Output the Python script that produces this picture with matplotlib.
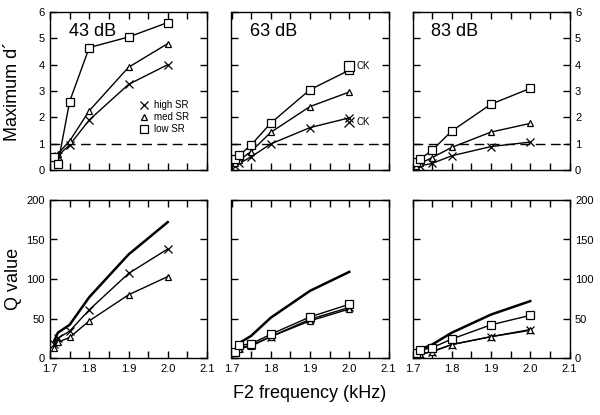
"""Max d' and Q value vs F2 frequency for three levels."""

import matplotlib
matplotlib.use("Agg")
import matplotlib.pyplot as plt
from matplotlib.lines import Line2D
from matplotlib.ticker import MultipleLocator

plt.rcParams["font.family"] = ["Liberation Sans", "DejaVu Sans"]

f2 = [1.71, 1.72, 1.75, 1.8, 1.9, 2.0]
levels = ["43 dB", "63 dB", "83 dB"]

# maximum d' per SR group, one list per level
dprime_high = [
    [0.45, 0.55, 0.95, 1.9, 3.25, 4.0],
    [0.17, 0.25, 0.5, 0.99, 1.61, 1.98],
    [0.09, 0.16, 0.25, 0.54, 0.89, 1.06],
]
dprime_med = [
    [0.5, 0.62, 1.1, 2.25, 3.9, 4.8],
    [0.25, 0.38, 0.7, 1.43, 2.41, 2.96],
    [0.15, 0.25, 0.47, 0.86, 1.44, 1.77],
]
dprime_low = [
    [0.5, 0.22, 2.6, 4.65, 5.05, 5.6],
    [0.4, 0.56, 0.95, 1.78, 3.05, 3.79],
    [0.29, 0.42, 0.75, 1.48, 2.5, 3.1],
]
# CK points at 63 dB (low SR, high SR)
ck_f2 = 2.0
ck_dprime = [3.96, 1.82]

# Q values; the heavy line is the unmarked reference curve
q_line = [
    [21, 32, 42, 77, 131, 172],
    [8, 19, 28, 51, 85, 109],
    [6, 11, 17, 32, 55, 72],
]
q_high = [
    [18, 25, 34, 61, 107, 138],
    [7, 13, 16, 27, 49, 64],
    [2, 5, 8, 17, 27, 35],
]
q_med = [
    [13, 20, 26, 47, 80, 103],
    [6, 12, 15, 27, 47, 62],
    [2, 5, 8, 17, 27, 36],
]
q_low = [
    None,
    [8, 16, 18, 30, 52, 68],
    [6, 10, 13, 24, 42, 54],
]

W, H = 600, 415
fig = plt.figure(figsize=(W / 100, H / 100), dpi=100)

lefts = [50, 231.5, 412.5]
pw, ph = 157, 158
tops = [12, 200]

mk = dict(color="black", lw=1.0, mfc="white", mec="black", mew=0.9)
sty_high = dict(marker="x", ms=5.5, **mk)
sty_med = dict(marker="^", ms=4.8, **mk)
sty_low = dict(marker="s", ms=5.5, **mk)


def style_axes(ax, ymax, ystep, col, row):
    ax.set_xlim(1.7, 2.1)
    ax.set_ylim(0, ymax)
    ax.xaxis.set_major_locator(MultipleLocator(0.1))
    ax.xaxis.set_minor_locator(MultipleLocator(0.05))
    ax.yaxis.set_major_locator(MultipleLocator(ystep))
    ax.tick_params(which="both", direction="in", top=True, right=True,
                   length=5, width=1, labelsize=8, pad=4)
    ax.tick_params(labelleft=(col == 0), labelright=(col == 2),
                   labelbottom=(row == 1))
    if row == 1:
        ax.set_xticks([1.7, 1.8, 1.9, 2.0, 2.1])
        ax.set_xticklabels(["1.7", "1.8", "1.9", "2.0", "2.1"])
    for s in ax.spines.values():
        s.set_linewidth(1.0)


axes = []
for row in range(2):
    for col in range(3):
        ax = fig.add_axes([lefts[col] / W, (H - tops[row] - ph) / H, pw / W, ph / H])
        axes.append(ax)
        if row == 0:
            ax.axhline(1, color="black", lw=1.0, dashes=(7, 4))
            ax.plot(f2, dprime_high[col], **sty_high)
            ax.plot(f2, dprime_med[col], **sty_med)
            ax.plot(f2, dprime_low[col], **sty_low)
            ax.text(0.12, 0.93, levels[col], transform=ax.transAxes,
                    fontsize=13, va="top", ha="left")
            style_axes(ax, 6, 1, col, row)
        else:
            ax.plot(f2, q_line[col], color="black", lw=1.8)
            ax.plot(f2, q_high[col], **sty_high)
            ax.plot(f2, q_med[col], **sty_med)
            if q_low[col] is not None:
                ax.plot(f2, q_low[col], **sty_low)
            style_axes(ax, 200, 50, col, row)

# CK markers in the 63 dB panel
ax = axes[1]
ax.plot([ck_f2], [ck_dprime[0]], marker="s", ms=7, ls="none",
        mfc="white", mec="black", mew=0.9)
ax.plot([ck_f2], [ck_dprime[1]], marker="x", ms=7, ls="none",
        mec="black", mew=0.9)
ax.text(ck_f2 + 0.018, ck_dprime[0], "CK", fontsize=7, va="center")
ax.text(ck_f2 + 0.018, ck_dprime[1], "CK", fontsize=7, va="center")

handles = [
    Line2D([], [], ls="none", **{k: v for k, v in sty_high.items() if k != "lw"}),
    Line2D([], [], ls="none", **{k: v for k, v in sty_med.items() if k != "lw"}),
    Line2D([], [], ls="none", **{k: v for k, v in sty_low.items() if k != "lw"}),
]
axes[0].legend(handles, ["high SR", "med SR", "low SR"], loc="center right",
               bbox_to_anchor=(0.91, 0.335), frameon=False, fontsize=7,
               handlelength=1.0, handletextpad=0.5, labelspacing=0.2,
               borderaxespad=0.0)

fig.text(13 / W, 1 - 91 / H, "Maximum d´", rotation=90, fontsize=13,
         ha="center", va="center")
fig.text(13 / W, 1 - 279 / H, "Q value", rotation=90, fontsize=13,
         ha="center", va="center")
fig.text(310 / W, 1 - 393 / H, "F2 frequency (kHz)", fontsize=13,
         ha="center", va="center")

fig.savefig("out.png", dpi=100)
